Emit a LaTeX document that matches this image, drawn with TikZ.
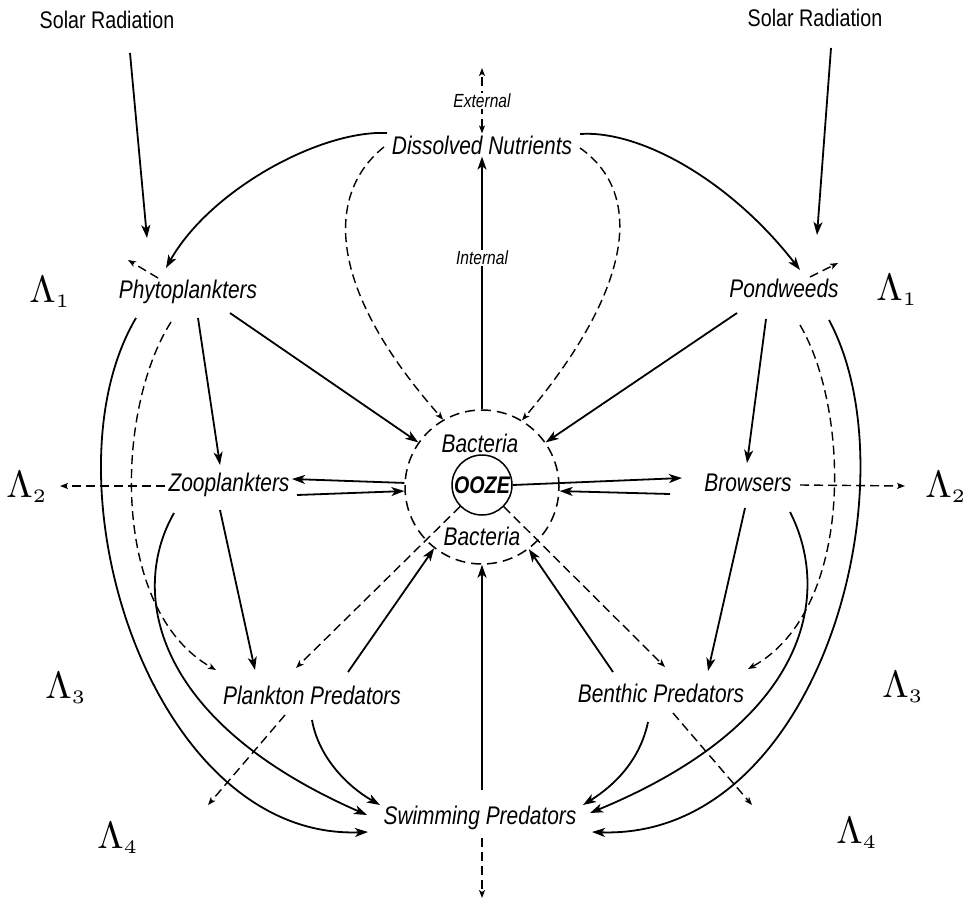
\documentclass[tikz,border=0pt]{standalone}
\usepackage[no-math]{fontspec}
\setmainfont{Liberation Sans}[FakeStretch=0.82]
\usepackage{graphicx}
\usepackage{tikz}
\usetikzlibrary{arrows.meta,calc}

\newcommand{\trophic}[1]{\scalebox{3.8}{$\Lambda_{\scriptscriptstyle #1}$}}

\begin{document}
\begin{tikzpicture}[
    x=1pt, y=-1pt,
    >={Stealth[length=13pt,width=9pt,inset=3.5pt]},
    Dt/.tip={Stealth[length=8pt,width=6pt,inset=2pt]},
    lab/.style={font=\fontsize{25.5}{28}\selectfont\itshape, inner sep=2pt},
    sun/.style={font=\fontsize{24}{26}\selectfont, inner sep=2pt},
    small/.style={font=\fontsize{19}{21}\selectfont\itshape, fill=white, inner sep=1pt},
    lam/.style={inner sep=0pt},
    arr/.style={->, line width=1.8pt},
    dline/.style={line width=1.4pt, dash pattern=on 9pt off 5pt},
    darr/.style={dline, -Dt}
  ]
  \useasboundingbox (0,0) rectangle (973,904);

  % sources at the top
  \node[sun] (solarL) at (107,20)  {Solar Radiation};
  \node[sun] (solarR) at (815,18)  {Solar Radiation};
  \node[lab] (nutr)   at (482,145) {Dissolved Nutrients};
  \node[lab] (phyto)  at (188,292) {Phytoplankters};
  \node[lab] (pond)   at (784,288) {Pondweeds};

  % the ooze with its bacteria
  \node[circle, draw, line width=1.5pt, dash pattern=on 10pt off 6pt,
        minimum size=154pt, inner sep=0pt] (bact) at (482,487) {};
  \node[circle, draw, line width=1.5pt, minimum size=60pt, inner sep=0pt,
        font=\fontsize{24}{24}\selectfont\bfseries\itshape] (ooze) at (482,485) {OOZE};
  \node[lab] (bactT) at (480,443) {Bacteria};
  \node[lab] (bactB) at (482,536) {Bacteria};

  % consumers
  \node[lab] (zoo)   at (229,485) {Zooplankters};
  \node[lab] (brow)  at (748,483) {Browsers};
  \node[lab] (pred)  at (312,695) {Plankton Predators};
  \node[lab] (benth) at (661,693) {Benthic Predators};
  \node[lab] (swim)  at (480,818) {Swimming Predators};

  % trophic levels
  \node[lam] (lamL1) at (50,292)  {\trophic1};
  \node[lam] (lamR1) at (897,290) {\trophic1};
  \node[lam] (lamL2) at (27,487)  {\trophic2};
  \node[lam] (lamR2) at (946,487) {\trophic2};
  \node[lam] (lamL3) at (66,688)  {\trophic3};
  \node[lam] (lamR3) at (903,687) {\trophic3};
  \node[lam] (lamL4) at (118,838) {\trophic4};
  \node[lam] (lamR4) at (857,833) {\trophic4};

  % light and nutrients into the producers
  \draw[arr] ($(solarL)+(23,33)$) -- ($(phyto)+(-41,-54)$);
  \draw[arr] ($(solarR)+(16,30)$) -- ($(pond)+(33,-53)$);
  \draw[arr] ($(nutr)+(-95,-12)$) .. controls (320,130) and (210,190) .. ($(phyto)+(-22,-24)$);
  \draw[arr] ($(nutr)+(98,-11)$) .. controls (640,130) and (730,180) .. ($(pond)+(16,-18)$);
  \coordinate (extTop) at (482,68);
  \draw[dline, Dt-Dt] (nutr.north) -- node[small]{External} (extTop);
  \draw[arr] (bact.north) -- node[small, pos=0.6]{Internal} (nutr.south);
  \draw[darr] ($(nutr)+(-98,2)$) .. controls (330,190) and (320,280) .. (bact.120);
  \draw[darr] ($(nutr)+(98,3)$) .. controls (640,190) and (640,280) .. (bact.59);

  % phytoplankters
  \draw[darr] ($(phyto)+(-30,-14)$) -- ($(phyto)+(-60,-32)$);
  \draw[arr] ($(phyto)+(42,21)$) -- (bact.145);
  \draw[arr] ($(phyto)+(10,26)$) -- ($(zoo)+(-9,-20)$);
  \draw[darr] ($(phyto)+(-17,30)$) .. controls (115,410) and (110,610) .. ($(pred)+(-96,-25)$);
  \draw[arr] ($(phyto)+(-52,26)$) .. controls (40,480) and (150,840) .. ($(swim)+(-112,14)$);

  % pondweeds
  \draw[darr] ($(pond)+(26,-11)$) -- ($(pond)+(54,-25)$);
  \draw[arr] ($(pond)+(-47,25)$) -- (bact.35);
  \draw[arr] ($(pond)+(-18,31)$) -- ($(brow)+(-1,-20)$);
  \draw[darr] ($(pond)+(16,37)$) .. controls (850,410) and (855,610) .. ($(benth)+(87,-24)$);
  \draw[arr] ($(pond)+(45,32)$) .. controls (915,480) and (820,840) .. ($(swim)+(112,14)$);

  % zooplankters
  \draw[darr] ($(zoo)+(-64,1)$) -- ($(lamL2)+(33,-1)$);
  \draw[arr] (bact.177) -- ($(zoo)+(63,-6)$);
  \draw[arr] ($(zoo)+(68,10)$) -- (bact.183);
  \draw[arr] ($(zoo)+(-9,25)$) -- ($(pred)+(-57,-25)$);
  \draw[arr] ($(zoo)+(-55,28)$) .. controls (130,590) and (150,720) .. ($(swim)+(-113,-3)$);

  % browsers
  \draw[darr] ($(brow)+(52,2)$) -- ($(lamR2)+(-41,-1)$);
  \draw[arr] (ooze.east) -- ($(brow)+(-66,-5)$);
  \draw[arr] ($(brow)+(-78,11)$) -- (bact.-3);
  \draw[arr] ($(brow)+(-3,25)$) -- ($(benth)+(47,-22)$);
  \draw[arr] ($(brow)+(42,29)$) .. controls (830,590) and (815,720) .. ($(swim)+(110,-5)$);

  % ooze out to the predators, and back to the bacteria
  \draw[darr] (ooze) -- ($(pred)+(-16,-27)$);
  \draw[darr] (ooze) -- ($(benth)+(4,-26)$);
  \draw[arr] ($(pred)+(36,-23)$) -- (bact.-128);
  \draw[arr] ($(benth)+(-48,-21)$) -- (bact.-53);
  \draw[arr] ($(swim)+(2,-28)$) -- (bact.-90);

  % predators
  \draw[arr] ($(pred)+(0,25)$) .. controls (318,755) and (345,785) .. ($(swim)+(-100,-13)$);
  \draw[arr] ($(benth)+(-13,29)$) .. controls (640,760) and (615,785) .. ($(swim)+(103,-13)$);
  \draw[darr] ($(pred)+(-27,20)$) -- ($(pred)+(-104,110)$);
  \draw[darr] ($(benth)+(12,20)$) -- ($(benth)+(91,112)$);
  \draw[darr] ($(swim)+(2,20)$) -- ($(swim)+(2,80)$);
\end{tikzpicture}
\end{document}
